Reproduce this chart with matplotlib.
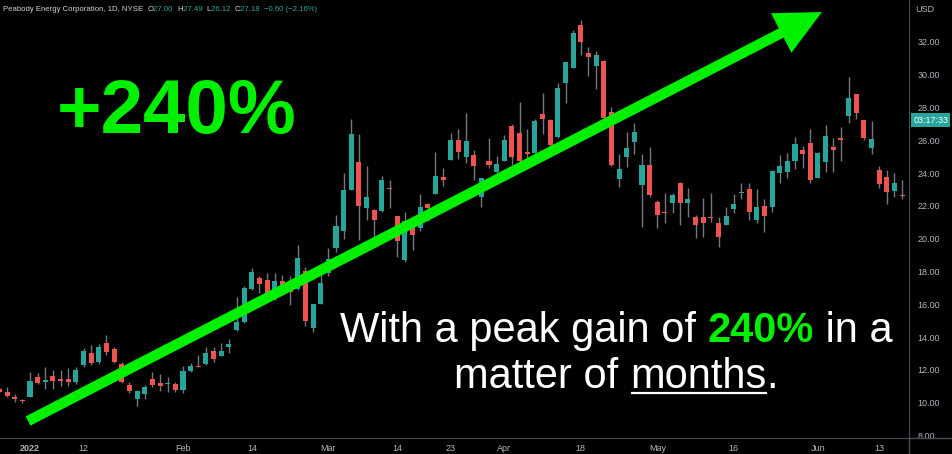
import numpy as np
import matplotlib
matplotlib.use("Agg")
import matplotlib.pyplot as plt
from matplotlib.lines import Line2D

# BTU daily candles, 28 Dec 2021 -> 16 Jun 2022 (index 0 = 3 Jan 2022)
opens = [10.84, 10.68, 10.37, 10.17,
         10.37, 11.59, 11.27, 11.65, 11.38, 11.43, 11.29, 12.30, 13.02, 12.51,
         13.63, 13.28, 12.35, 11.09, 10.23, 10.54, 11.43, 11.19, 11.15, 11.15,
         10.78, 11.96, 12.24, 12.37, 13.18, 12.85, 13.42, 14.44, 14.95, 16.92,
         17.59, 17.49, 16.47, 17.43, 17.29, 16.92, 18.04, 14.54, 16.02, 17.90,
         19.46, 20.48, 22.98, 24.70, 21.86, 21.76, 21.70, 23.10, 21.39, 18.71,
         20.74, 20.64, 22.12, 22.71, 23.75, 24.80, 26.02, 24.97, 25.11, 22.53,
         24.74, 24.09, 24.74, 26.88, 26.43, 25.31, 25.21, 27.59, 27.24, 26.20,
         29.48, 30.40, 33.04, 31.31, 30.54, 30.86, 27.73, 23.63, 25.01, 25.92,
         23.28, 24.50, 22.22, 21.62, 22.20, 23.42, 22.20, 21.35, 21.35, 21.31,
         20.98, 20.84, 21.80, 22.81, 23.02, 21.15, 22.02, 21.92, 24.03, 24.09,
         24.76, 25.41, 25.82, 23.73, 24.70, 25.58, 26.09, 27.49, 28.81, 27.24,
         25.56, 24.20, 23.75, 22.91, 22.63]
highs = [10.96, 10.96, 10.54, 10.25,
         11.90, 11.80, 12.18, 12.00, 12.00, 12.14, 12.16, 13.32, 13.52, 13.59,
         14.13, 13.42, 12.51, 11.29, 10.78, 11.09, 11.86, 11.76, 11.59, 11.29,
         12.24, 12.41, 12.91, 13.38, 13.38, 13.63, 13.87, 16.47, 17.10, 18.20,
         17.73, 17.90, 17.90, 17.79, 17.73, 19.62, 18.30, 16.05, 17.79, 19.42,
         21.45, 24.03, 27.29, 26.39, 24.44, 21.80, 23.83, 23.59, 21.39, 21.65,
         20.80, 22.71, 22.16, 25.31, 24.30, 26.43, 26.67, 27.69, 25.41, 23.69,
         26.16, 25.05, 26.33, 27.00, 28.36, 26.67, 27.30, 28.91, 27.30, 29.52,
         30.80, 32.73, 33.34, 31.68, 31.45, 30.90, 28.04, 25.17, 26.53, 27.08,
         25.17, 25.58, 22.37, 22.77, 22.77, 23.48, 23.08, 21.45, 22.47, 22.81,
         21.35, 21.92, 22.71, 23.38, 23.38, 23.02, 22.41, 24.20, 25.11, 25.25,
         26.19, 25.66, 26.67, 25.31, 26.94, 26.13, 26.80, 29.88, 28.81, 27.24,
         27.18, 24.44, 24.20, 24.00, 23.59]
lows = [10.54, 10.35, 10.05, 9.99,
        10.35, 11.15, 10.84, 10.84, 11.00, 11.02, 11.15, 12.16, 12.30, 12.35,
        12.91, 12.41, 11.23, 10.58, 9.82, 10.21, 10.95, 10.74, 10.68, 10.64,
        10.58, 11.90, 12.16, 12.33, 12.51, 12.85, 13.05, 14.40, 14.88, 16.88,
        16.68, 16.51, 16.27, 16.98, 15.96, 16.88, 14.70, 14.34, 16.00, 17.73,
        19.21, 19.97, 22.95, 19.93, 21.15, 20.13, 21.65, 21.86, 18.91, 18.60,
        19.32, 20.49, 21.09, 22.71, 23.22, 24.80, 24.85, 24.60, 23.59, 21.92,
        24.30, 23.34, 24.74, 24.50, 24.65, 24.24, 25.20, 26.39, 25.60, 26.13,
        28.26, 30.40, 31.21, 29.93, 29.13, 27.20, 24.45, 23.18, 24.40, 25.17,
        20.74, 22.57, 20.64, 20.94, 21.55, 20.84, 21.35, 20.03, 20.13, 21.04,
        19.52, 20.84, 21.55, 22.41, 21.15, 20.94, 20.43, 21.65, 23.38, 23.69,
        24.24, 24.30, 23.38, 23.69, 24.09, 24.09, 24.76, 27.08, 27.29, 26.02,
        25.17, 23.08, 22.12, 22.53, 22.41]
closes = [10.66, 10.41, 10.23, 10.09,
          11.33, 11.19, 11.39, 11.35, 11.35, 11.27, 12.00, 13.18, 12.41, 13.42,
          13.12, 12.47, 11.29, 10.72, 10.72, 10.95, 11.09, 11.05, 11.21, 10.78,
          11.94, 12.24, 12.18, 13.02, 12.65, 13.18, 13.59, 14.95, 17.02, 18.00,
          17.22, 16.57, 17.43, 17.08, 16.77, 18.81, 14.99, 16.02, 17.32, 18.75,
          20.80, 22.98, 26.39, 22.00, 22.57, 21.15, 23.59, 23.05, 19.88, 21.10,
          20.23, 21.92, 21.90, 23.83, 23.59, 26.02, 25.27, 25.96, 24.44, 23.69,
          24.50, 24.54, 26.02, 25.01, 24.76, 25.15, 27.18, 27.29, 25.72, 29.18,
          30.76, 32.57, 32.02, 31.07, 31.21, 27.37, 24.50, 24.24, 25.52, 26.53,
          24.50, 22.67, 21.45, 21.59, 22.67, 22.20, 22.41, 20.84, 20.94, 21.25,
          20.13, 21.39, 22.12, 22.87, 21.65, 21.96, 21.39, 24.13, 24.44, 24.76,
          25.78, 25.15, 23.59, 25.21, 26.27, 25.41, 26.05, 28.57, 27.65, 26.16,
          26.09, 23.34, 22.84, 23.38, 22.61]

tick_pos = [0, 7, 20, 29, 39, 48, 55, 62, 72, 82, 92, 103, 111]
tick_labels = ["2022", "12", "Feb", "14", "Mar", "14", "23", "Apr", "18",
               "May", "16", "Jun", "13"]
price_ticks = np.arange(8, 33, 2)

UP = "#26a69a"
DOWN = "#ef5350"
WICK = "#737780"
GREEN = "#00f000"
AXC = "#b2b5be"
HDRC = "#d1d4dc"
LINEC = "#4a4d55"

plt.rcParams["font.family"] = ["Liberation Sans", "DejaVu Sans"]

fig = plt.figure(figsize=(9.53, 4.54), dpi=100, facecolor="black")
ax = fig.add_axes([0, 16 / 454, 909 / 953, 438 / 454], facecolor="black")

x = np.arange(len(opens)) - 4
o = np.array(opens)
c = np.array(closes)
h = np.array(highs)
l = np.array(lows)
cols = np.where(c >= o, UP, DOWN)

# wicks + bodies
ax.vlines(x, l, h, colors=WICK, linewidth=1.0, zorder=2)
body = np.maximum(np.abs(c - o), 0.07)
ax.bar(x, body, bottom=np.minimum(o, c), width=0.66, color=cols, zorder=3)

ax.set_xlim(-3.92, 114.9)
ax.set_ylim(7.85, 34.56)

ax.yaxis.tick_right()
ax.set_yticks(price_ticks)
ax.set_yticklabels([f"{v:.2f}" for v in price_ticks])
ax.set_xticks(tick_pos)
ax.set_xticklabels(tick_labels)
ax.tick_params(axis="y", length=0, pad=6, labelsize=6.5, labelcolor=AXC)
ax.tick_params(axis="x", length=0, pad=4, labelsize=6.5, labelcolor=AXC)
ax.get_xticklabels()[0].set_fontweight("bold")
for s in ["top", "left"]:
    ax.spines[s].set_visible(False)
ax.spines["right"].set_color(LINEC)
ax.spines["bottom"].set_color(LINEC)
fig.add_artist(Line2D([909 / 953, 1], [16 / 454, 16 / 454], color=LINEC, lw=1))
fig.add_artist(Line2D([909 / 953, 909 / 953], [0, 16 / 454], color=LINEC, lw=1))

fig.text(915 / 953, 1 - 9 / 454, "USD", color=AXC, fontsize=6.5, va="center")
ax.annotate("03:17:33", xy=(1.0, 27.24), xycoords=("axes fraction", "data"),
            xytext=(3, 0), textcoords="offset points", color="white",
            fontsize=6.5, va="center", ha="left",
            bbox=dict(boxstyle="square,pad=0.25", fc=UP, ec="none"))

# header line
hdr = [("O", HDRC), ("27.00  ", UP), ("H", HDRC), ("27.49  ", UP),
       ("L", HDRC), ("26.12  ", UP), ("C", HDRC), ("27.18  ", UP),
       ("\u22120.60 (\u22122.16%)", UP)]
p = fig.text(3 / 953, 1 - 13 / 454, "Peabody Energy Corporation, 1D, NYSE  ",
             color=HDRC, fontsize=5.6, va="bottom")
for s, col in hdr:
    p = ax.annotate(s, xy=(1, 0), xycoords=p, va="bottom", ha="left",
                    color=col, fontsize=5.6, annotation_clip=False)

# arrow
ax.annotate("", xy=(822 / 909, 1 - 12 / 438), xytext=(28 / 909, 1 - 421 / 438),
            xycoords="axes fraction",
            arrowprops=dict(arrowstyle="simple,head_length=3.3,head_width=3.2,tail_width=0.75",
                            mutation_scale=10, fc=GREEN, ec="none", lw=0,
                            shrinkA=0, shrinkB=0), zorder=5)

fig.text(57 / 953, 1 - 133 / 454, "+240%", color=GREEN, fontsize=55,
         fontweight="bold", va="baseline")

# caption (two centred lines)
FS = 30
line1 = [("240%", GREEN, "bold"), (" in a", "white", "normal")]
t1 = fig.text(340 / 953, 1 - 342 / 454, "With a peak gain of ", color="white",
              fontsize=FS, va="baseline")
t = t1
for s, col, w in line1:
    t = ax.annotate(s, xy=(1, 0), xycoords=t, va="bottom", ha="left",
                    color=col, fontsize=FS, fontweight=w, annotation_clip=False)
t2 = fig.text(413 / 953, 1 - 388 / 454, "matter of ", color="white",
              fontsize=FS, va="baseline")
m = ax.annotate("months", xy=(1, 0), xycoords=t2, va="bottom", ha="left",
                color="white", fontsize=FS, annotation_clip=False)
dot = ax.annotate(".", xy=(1, 0), xycoords=m, va="bottom", ha="left",
                  color="white", fontsize=FS, annotation_clip=False)

fig.canvas.draw()
r = fig.canvas.get_renderer()
cx = (t1.get_window_extent(r).x0 + t.get_window_extent(r).x1) / 2
w2 = dot.get_window_extent(r).x1 - t2.get_window_extent(r).x0
t2.set_x((cx - w2 / 2) / 953)
fig.canvas.draw()

bb = m.get_window_extent(r)
uy = (454 - 393) / 454
fig.add_artist(Line2D([bb.x0 / 953 + 0.002, bb.x1 / 953 - 0.001], [uy, uy],
                      color="white", lw=1.6))

fig.savefig("out.png", dpi=100, facecolor="black")
